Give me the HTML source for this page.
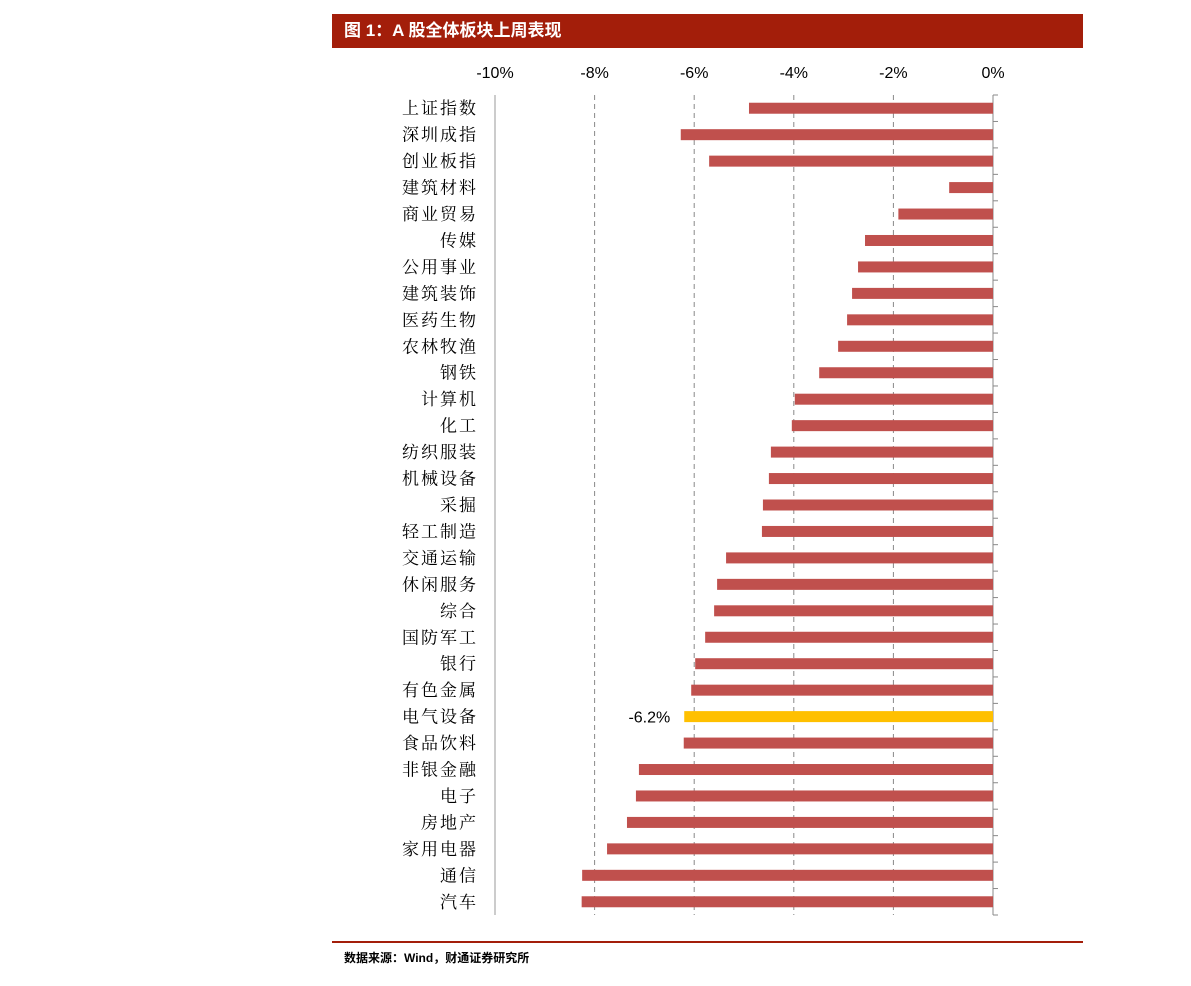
<!DOCTYPE html>
<html><head><meta charset="utf-8">
<style>
body{margin:0;background:#fff;width:1191px;height:986px;overflow:hidden;font-family:"Liberation Sans","Noto Sans CJK SC",sans-serif;}
#title{position:absolute;left:332px;top:14px;width:751px;height:34px;background:#a31e0a;color:#fff;font:bold 17px "Liberation Sans","Noto Sans CJK SC",sans-serif;line-height:34px;box-sizing:border-box;padding-left:12px;}
#foot-line{position:absolute;left:332px;top:941px;width:751px;height:2px;background:#a31e0a;}
#source{position:absolute;left:344px;top:949px;font:bold 12px "Liberation Sans","Noto Sans CJK SC",sans-serif;color:#000;}
svg{position:absolute;left:0;top:0;}
</style></head><body>
<div id="title">图 1：A 股全体板块上周表现</div>
<svg id="chart" width="1191" height="986"></svg>
<div id="foot-line"></div>
<div id="source">数据来源：Wind，财通证券研究所</div>
<script>
const categories=["上证指数","深圳成指","创业板指","建筑材料","商业贸易","传媒","公用事业","建筑装饰","医药生物","农林牧渔","钢铁","计算机","化工","纺织服装","机械设备","采掘","轻工制造","交通运输","休闲服务","综合","国防军工","银行","有色金属","电气设备","食品饮料","非银金融","电子","房地产","家用电器","通信","汽车"];
const values=[-4.9,-6.27,-5.7,-0.88,-1.9,-2.57,-2.71,-2.83,-2.93,-3.11,-3.49,-3.98,-4.04,-4.46,-4.5,-4.62,-4.64,-5.36,-5.54,-5.6,-5.78,-5.98,-6.06,-6.2,-6.21,-7.11,-7.17,-7.35,-7.75,-8.25,-8.26];
const tickValues=[-10,-8,-6,-4,-2,0];
const tickLabels=["-10%","-8%","-6%","-4%","-2%","0%"];
const highlight="电气设备";
const highlightLabel="-6.2%";
const NS="http://www.w3.org/2000/svg";
const svg=document.getElementById('chart');
const x0=495,x1=993,yTop=95,yBot=915;
const xs=v=>x1+(v/10)*(x1-x0);
const band=(yBot-yTop)/categories.length;
const yc=i=>yTop+band*(i+0.5);
function mk(t,a){const e=document.createElementNS(NS,t);for(const k in a)e.setAttribute(k,a[k]);svg.appendChild(e);return e;}
tickValues.forEach((v,i)=>{
 const x=xs(v);
 if(v!==0&&v!==-10){const l=mk('line',{x1:x,x2:x,y1:yTop,y2:yBot,stroke:'#888','stroke-dasharray':'5,4','stroke-width':1});
 
 }
 const t=mk('text',{x:x,y:78,'text-anchor':'middle','font-size':16,fill:'#000','font-family':'Liberation Sans, sans-serif'});
 t.textContent=tickLabels[i];
 
 
});
const la=mk('line',{x1:x0,x2:x0,y1:yTop,y2:yBot,stroke:'#999','stroke-width':1});


const ra=mk('line',{x1:x1,x2:x1,y1:yTop,y2:yBot,stroke:'#888','stroke-width':1});


for(let i=0;i<=categories.length;i++){const y=yTop+band*i;const tk=mk('line',{x1:x1,x2:x1+5,y1:y,y2:y,stroke:'#888'});
 
 }
categories.forEach((c,i)=>{
 const v=values[i],y=yc(i),hl=c===highlight;
 const r=mk('rect',{x:xs(v),y:y-5.5,width:x1-xs(v),height:11,fill:hl?'#ffc000':'#c0504d'});
 
 
 const t=mk('text',{x:478,y:y+6,'text-anchor':'end','font-size':17,fill:'#000','font-family':'Noto Serif CJK SC, serif','letter-spacing':'2'});
 t.textContent=c;
 
 
 if(hl){const d=mk('text',{x:xs(v)-14,y:y+6,'text-anchor':'end','font-size':16,fill:'#000','font-family':'Liberation Sans, sans-serif'});
 d.textContent=highlightLabel;
 
 }
});
</script>
</body></html>
